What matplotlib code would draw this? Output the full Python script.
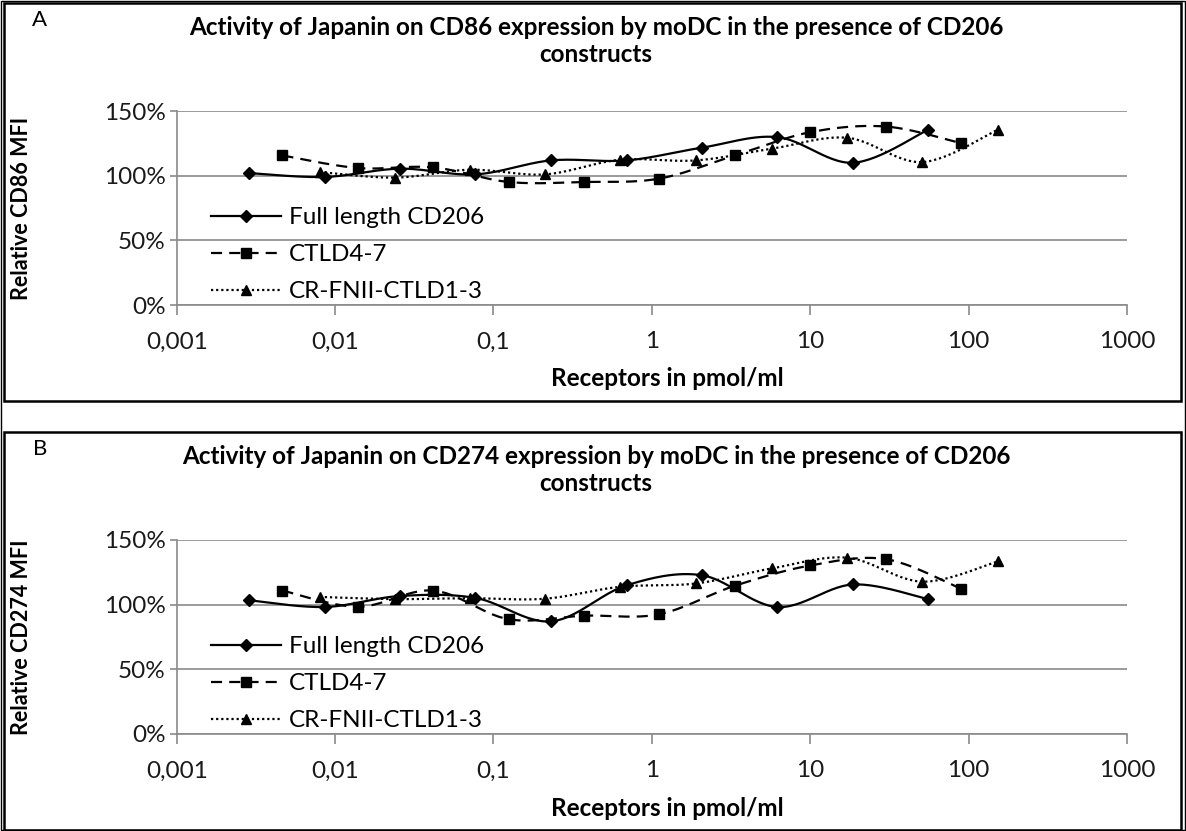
import matplotlib
matplotlib.use('Agg')
import matplotlib.pyplot as plt
from matplotlib.lines import Line2D
from matplotlib.patches import Rectangle
from matplotlib.ticker import FixedLocator, FixedFormatter, NullLocator
import numpy as np

plt.rcParams['font.family'] = ['Lato', 'DejaVu Sans']

# receptor concentrations (pmol/ml), one 3-fold dilution series per construct
full_x = [0.00286, 0.0086, 0.0257, 0.077, 0.231, 0.693, 2.06, 6.2, 18.6, 55.6]
ctld_x = [0.00465, 0.014, 0.0417, 0.125, 0.374, 1.11, 3.34, 10.0, 30.0, 90.0]
crf_x = [0.008, 0.024, 0.071, 0.211, 0.63, 1.9, 5.7, 17.1, 51.0, 153.0]

# panel A: relative CD86 MFI (%)
full_cd86 = [102, 99, 105.4, 101, 111.8, 111.8, 121.6, 129.8, 110, 135.5]
ctld_cd86 = [115.6, 105.9, 106.4, 95.1, 95.1, 97.7, 115.6, 133.6, 138, 125.1]
crf_cd86 = [102.8, 98.5, 104.6, 101, 112.3, 111.8, 120.8, 129.3, 110.5, 135.5]

# panel B: relative CD274 MFI (%)
full_cd274 = [103.4, 98.2, 106.7, 105.2, 87.1, 115, 122.8, 98.2, 115.6, 104.3]
ctld_cd274 = [110.9, 98.4, 110.9, 88.7, 91.5, 92.6, 114.6, 130.3, 135.2, 112.2]
crf_cd274 = [106, 104.3, 105, 104.6, 113.8, 116.4, 128, 136.3, 117.8, 133.4]

series_names = ['Full length CD206', 'CTLD4-7', 'CR-FNII-CTLD1-3']
x_ticks = [0.001, 0.01, 0.1, 1, 10, 100, 1000]
x_tick_labels = ['0,001', '0,01', '0,1', '1', '10', '100', '1000']
y_ticks = [0, 50, 100, 150]
y_tick_labels = ['0%', '50%', '100%', '150%']

W, H = 1186, 831
GRAY = '#8a8a8a'


def fx(px):
    return px / W


def fy(py):
    return 1 - py / H


def smooth(ax, x, y, n=30):
    """Excel-like smoothed line (Catmull-Rom bezier in screen space)"""
    pts = ax.transData.transform(np.column_stack([x, y]))
    out = []
    for i in range(len(pts) - 1):
        p0 = pts[max(i - 1, 0)]
        p1 = pts[i]
        p2 = pts[i + 1]
        p3 = pts[min(i + 2, len(pts) - 1)]
        c1 = p1 + (p2 - p0) / 6
        c2 = p2 - (p3 - p1) / 6
        t = np.linspace(0, 1, n)[:, None]
        seg = ((1 - t) ** 3) * p1 + 3 * ((1 - t) ** 2) * t * c1 \
            + 3 * (1 - t) * t ** 2 * c2 + t ** 3 * p2
        out.append(seg)
    out = np.vstack(out)
    data = ax.transData.inverted().transform(out)
    return data[:, 0], data[:, 1]


styles = [
    dict(ls='-', marker='D', ms=6),
    dict(ls=(0, (5, 3.2)), marker='s', ms=7.5),
    dict(ls=(0, (1, 1.3)), marker='^', ms=7.5),
]


def draw_panel(top_px, letter, title, ylabel, values):
    # outer panel box
    fig.add_artist(Rectangle((fx(4), fy(top_px + 398)), fx(1177), 398 / H,
                             transform=fig.transFigure, fill=False,
                             edgecolor='black', lw=1.8))
    ax_top = top_px + 108
    ax = fig.add_axes([fx(176.7), fy(ax_top + 194), fx(1127 - 176.7), 194 / H])
    ax.set_xscale('log')
    ax.set_xlim(0.001, 1000)
    ax.set_ylim(0, 150)
    for s in ['top', 'right']:
        ax.spines[s].set_visible(False)
    for s in ['left', 'bottom']:
        ax.spines[s].set_color(GRAY)
        ax.spines[s].set_linewidth(1.2)
    ax.yaxis.grid(True, color=GRAY, lw=1.2)
    ax.set_axisbelow(True)
    ax.xaxis.set_major_locator(FixedLocator(x_ticks))
    ax.xaxis.set_major_formatter(FixedFormatter(x_tick_labels))
    ax.xaxis.set_minor_locator(NullLocator())
    ax.yaxis.set_major_locator(FixedLocator(y_ticks))
    ax.yaxis.set_major_formatter(FixedFormatter(y_tick_labels))
    ax.tick_params(axis='x', length=7, width=1.2, color=GRAY, pad=12,
                   labelsize=17.5, labelcolor='#1a1a1a')
    ax.tick_params(axis='y', length=5, width=1.2, color=GRAY, pad=3,
                   labelsize=17.5, labelcolor='#1a1a1a')

    xs = [full_x, ctld_x, crf_x]
    for xv, yv, st in zip(xs, values, styles):
        sx, sy = smooth(ax, xv, yv)
        ax.plot(sx, sy, color='black', lw=1.6, ls=st['ls'], clip_on=False)
        ax.plot(xv, yv, ls='none', marker=st['marker'], ms=st['ms'],
                color='black', clip_on=False)

    handles = [Line2D([], [], color='black', lw=1.6, ls=st['ls'],
                      marker=st['marker'], ms=st['ms']) for st in styles]
    ax.legend(handles, series_names, loc='upper left',
              bbox_to_anchor=(fx(211), fy(top_px + 204)),
              bbox_transform=fig.transFigure, frameon=False, borderpad=0,
              borderaxespad=0, handlelength=2.9, handletextpad=0.3,
              labelspacing=0.66, fontsize=17.5, numpoints=1)

    fig.text(fx(40), fy(top_px + 17), letter, fontsize=16, ha='center',
             va='center')
    fig.text(fx(596), fy(top_px + 38), title, fontsize=17.5, weight='bold',
             ha='center', va='center', linespacing=1.2)
    fig.text(fx(22), fy(ax_top + 97), ylabel, fontsize=15.5, weight='bold',
             rotation=90, ha='center', va='center')
    fig.text(fx(667), fy(top_px + 376), 'Receptors in pmol/ml', fontsize=17.5,
             weight='bold', ha='center', va='center')
    return ax


fig = plt.figure(figsize=(W / 100, H / 100), dpi=100)
fig.add_artist(Rectangle((0.001, 0.001), 0.998, 0.998, transform=fig.transFigure,
                         fill=False, edgecolor='black', lw=1.0))

draw_panel(3, 'A',
           'Activity of Japanin on CD86 expression by moDC in the presence of CD206\nconstructs',
           'Relative CD86 MFI', [full_cd86, ctld_cd86, crf_cd86])
draw_panel(432, 'B',
           'Activity of Japanin on CD274 expression by moDC in the presence of CD206\nconstructs',
           'Relative CD274 MFI', [full_cd274, ctld_cd274, crf_cd274])

fig.savefig('out.png', dpi=100)
